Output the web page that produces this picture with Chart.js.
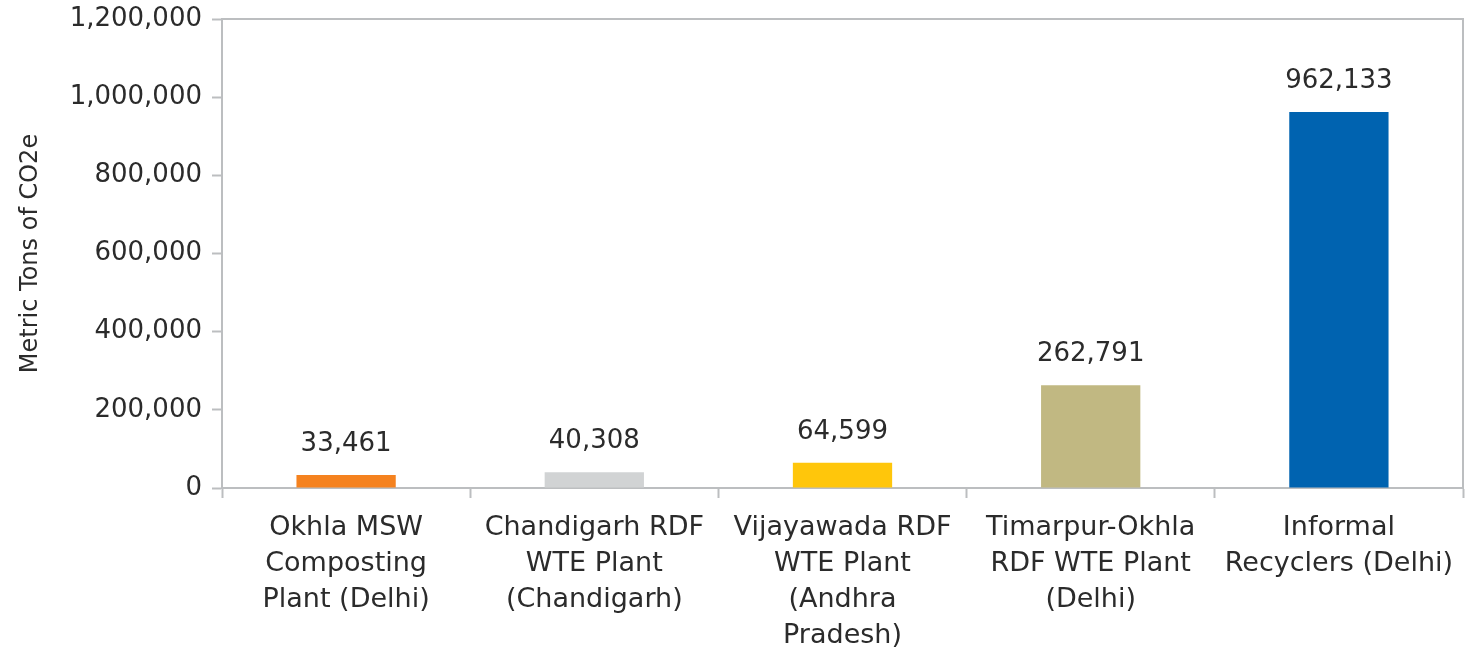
<!DOCTYPE html>
<html>
<head>
<meta charset="utf-8">
<script src="https://cdn.jsdelivr.net/npm/chart.js@4.4.1/dist/chart.umd.min.js"></script>
<style>
  html, body { margin: 0; padding: 0; background: #fff; }
  #wrap { width: 1465px; height: 647px; }
</style>
</head>
<body>
<div id="wrap"><canvas id="emissionsChart" width="1465" height="647"></canvas></div>
<script>
const categories = [
    ['Okhla MSW', 'Composting', 'Plant (Delhi)'],
    ['Chandigarh RDF', 'WTE Plant', '(Chandigarh)'],
    ['Vijayawada RDF', 'WTE Plant', '(Andhra', 'Pradesh)'],
    ['Timarpur-Okhla', 'RDF WTE Plant', '(Delhi)'],
    ['Informal', 'Recyclers (Delhi)']
];
const emissions = [33461, 40308, 64599, 262791, 962133];
const barColors = ['#f5821f', '#d1d3d4', '#ffc60b', '#c1b882', '#0063b0'];
const yTicks = [0, 200000, 400000, 600000, 800000, 1000000, 1200000];

const axisColor = '#bcbec0';
const textColor = '#2b2b2b';
const fontFamily = '"DejaVu Sans", sans-serif';

// value labels above each bar
const valueLabels = {
    id: 'valueLabels',
    afterDatasetsDraw(chart) {
        const ctx = chart.ctx;
        const meta = chart.getDatasetMeta(0);
        ctx.save();
        ctx.font = '26px ' + fontFamily;
        ctx.fillStyle = textColor;
        ctx.textAlign = 'center';
        ctx.textBaseline = 'middle';
        meta.data.forEach((bar, i) => {
            ctx.fillText(emissions[i].toLocaleString('en-US'), bar.x, bar.y - 31);
        });
        ctx.restore();
    }
};

// top and right edge of the plot frame
const plotFrame = {
    id: 'plotFrame',
    beforeDatasetsDraw(chart) {
        const { ctx, chartArea } = chart;
        ctx.save();
        ctx.strokeStyle = axisColor;
        ctx.lineWidth = 2;
        ctx.beginPath();
        ctx.moveTo(chartArea.left, chartArea.top);
        ctx.lineTo(chartArea.right, chartArea.top);
        ctx.lineTo(chartArea.right, chartArea.bottom);
        ctx.stroke();
        ctx.restore();
    }
};

const ctx = document.getElementById('emissionsChart').getContext('2d');
const emissionsChart = new Chart(ctx, {
    type: 'bar',
    data: {
        labels: categories,
        datasets: [{
            data: emissions,
            backgroundColor: barColors,
            borderWidth: 0,
            barPercentage: 0.4,
            categoryPercentage: 1
        }]
    },
    options: {
        responsive: false,
        animation: false,
        layout: { padding: { top: 19, right: 2, left: 0, bottom: 0 } },
        plugins: {
            legend: { display: false },
            tooltip: { enabled: false }
        },
        scales: {
            x: {
                afterFit(scale) {
                    scale.height = 159;
                    scale.paddingLeft = 0;
                    scale.paddingRight = 0;
                },
                grid: {
                    offset: true,
                    drawOnChartArea: false,
                    tickLength: 10,
                    tickWidth: 2,
                    tickColor: axisColor
                },
                border: { color: axisColor, width: 2 },
                ticks: {
                    color: textColor,
                    font: { family: fontFamily, size: 27, lineHeight: 1.333 },
                    padding: 12,
                    maxRotation: 0,
                    autoSkip: false
                }
            },
            y: {
                min: 0,
                max: 1200000,
                afterFit(scale) {
                    scale.width = 222;
                    scale.paddingTop = 0;
                    scale.paddingBottom = 0;
                },
                afterBuildTicks(scale) { scale.ticks = yTicks.map(v => ({ value: v })); },
                grid: {
                    drawOnChartArea: false,
                    tickLength: 10,
                    tickWidth: 2,
                    tickColor: axisColor
                },
                border: { color: axisColor, width: 2 },
                ticks: {
                    color: textColor,
                    font: { family: fontFamily, size: 26 },
                    padding: 10,
                    callback: v => v.toLocaleString('en-US')
                },
                title: {
                    display: true,
                    text: 'Metric Tons of CO2e',
                    color: textColor,
                    font: { family: fontFamily, size: 24 },
                    padding: { top: 16, bottom: 0 }
                }
            }
        }
    },
    plugins: [valueLabels, plotFrame]
});
</script>
</body>
</html>
